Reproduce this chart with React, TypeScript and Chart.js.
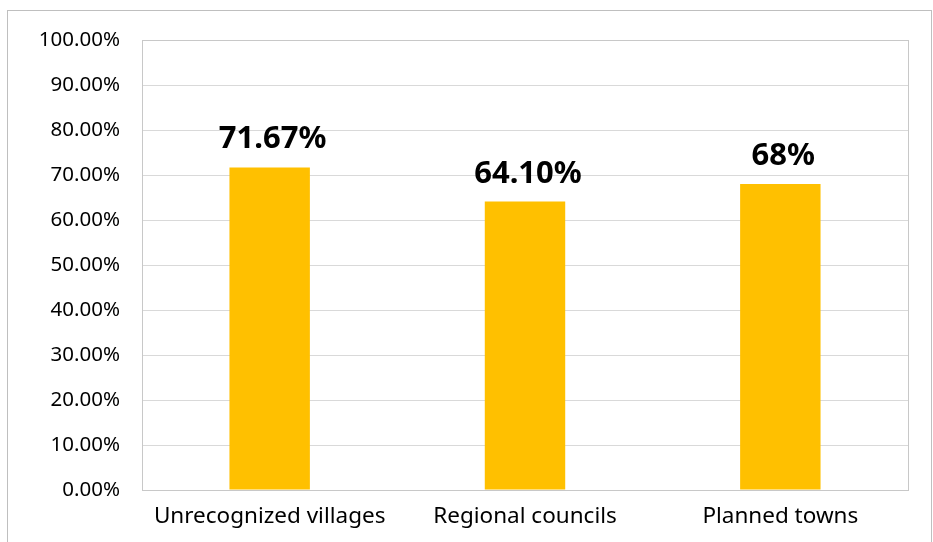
import React, { useEffect, useRef } from "react";
import { Chart, registerables } from "chart.js";

Chart.register(...registerables);

const categories = ["Unrecognized villages", "Regional councils", "Planned towns"];
const values = [71.67, 64.1, 68];
const valueLabels = ["71.67%", "64.10%", "68%"];
const FONT = "'Noto Sans', 'Open Sans', sans-serif";

export default function App() {
  const ref = useRef<HTMLCanvasElement | null>(null);
  useEffect(() => {
    document.body.style.margin = "0";
    const frame = {
      id: "frame",
      beforeDraw(chart: any) {
        const c = chart.ctx;
        c.save();
        c.fillStyle = "#ffffff";
        c.fillRect(0, 0, chart.width, chart.height);
        c.strokeStyle = "#bfbfbf";
        c.lineWidth = 1;
        c.strokeRect(7.5, 10.5, 924, 600);
        c.restore();
      },
      afterDatasetsDraw(chart: any) {
        const c = chart.ctx;
        const a = chart.chartArea;
        c.save();
        c.strokeStyle = "#c8c8c8";
        c.lineWidth = 1;
        c.strokeRect(Math.round(a.left) + 0.5, Math.round(a.top) + 0.5, Math.round(a.right - a.left), Math.round(a.bottom - a.top));
        const meta = chart.getDatasetMeta(0);
        c.fillStyle = "#000000";
        c.font = "bold 31px " + FONT;
        c.textAlign = "center";
        c.textBaseline = "alphabetic";
        meta.data.forEach((bar: any, i: number) => {
          c.fillText(valueLabels[i], bar.x + 3, bar.y - 19);
        });
        c.restore();
      },
    };
    const chart = new Chart(ref.current!, {
      type: "bar",
      data: {
        labels: categories,
        datasets: [
          {
            data: values,
            backgroundColor: "#FFC000",
            categoryPercentage: 1,
            barPercentage: 0.315,
          },
        ],
      },
      options: {
        animation: false,
        responsive: false,
        maintainAspectRatio: false,
        layout: { padding: { top: 40, right: 25, left: 0, bottom: 0 } },
        plugins: { legend: { display: false }, tooltip: { enabled: false } },
        scales: {
          x: {
            grid: { display: false, drawTicks: false },
            border: { display: false },
            ticks: { color: "#000", font: { family: FONT, size: 22.5 }, padding: 13, maxRotation: 0, autoSkip: false },
            afterFit(s: any) {
              s.height = 52;
            },
          },
          y: {
            min: 0,
            max: 100,
            grid: { color: "#d9d9d9", drawTicks: false },
            border: { display: false },
            ticks: {
              stepSize: 10,
              color: "#000",
              padding: 22,
              font: { family: FONT, size: 20.5 },
              callback: (v: any) => Number(v).toFixed(2) + "%",
            },
            afterFit(s: any) {
              s.width = 142;
            },
          },
        },
      },
      plugins: [frame],
    });
    return () => chart.destroy();
  }, []);
  return (
    <div style={{ width: 933, height: 542 }}>
      <canvas ref={ref} width={933} height={542} style={{ display: "block" }} />
    </div>
  );
}
